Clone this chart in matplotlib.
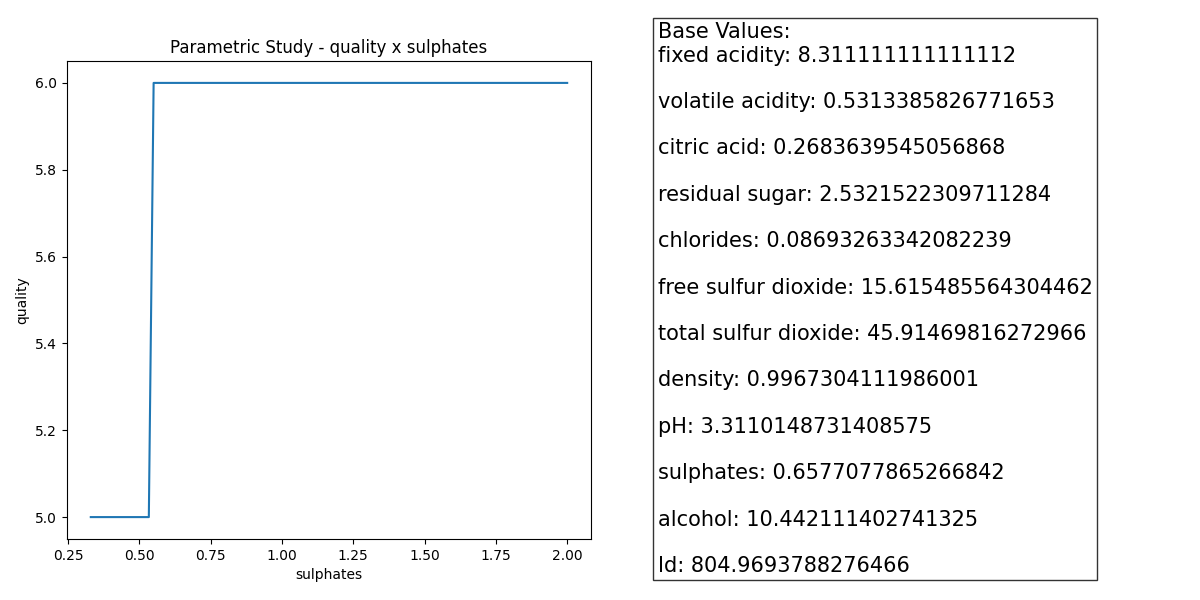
import matplotlib
matplotlib.use('Agg')
import matplotlib.pyplot as plt

# parametric sweep of sulphates (quality is predicted class)
sulphates = [0.33, 0.5335, 0.5503, 2.0]
quality = [5, 5, 6, 6]

base_names = ['fixed acidity', 'volatile acidity', 'citric acid', 'residual sugar',
              'chlorides', 'free sulfur dioxide', 'total sulfur dioxide', 'density',
              'pH', 'sulphates', 'alcohol', 'Id']
base_values = ['8.311111111111112', '0.5313385826771653', '0.2683639545056868',
               '2.5321522309711284', '0.08693263342082239', '15.615485564304462',
               '45.91469816272966', '0.9967304111986001', '3.3110148731408575',
               '0.6577077865266842', '10.442111402741325', '804.9693788276466']

fig = plt.figure(figsize=(12, 6), dpi=100)
ax = fig.add_axes([0.0558, 0.102, 0.4367, 0.796])
ax.plot(sulphates, quality)
ax.set_title('Parametric Study - quality x sulphates')
ax.set_xlabel('sulphates')
ax.set_ylabel('quality')

txt = 'Base Values:\n' + '\n\n'.join(f'{n}: {v}' for n, v in zip(base_names, base_values))
fig.text(0.548, 0.9625, txt, fontsize=15, va='top', ha='left',
         bbox=dict(boxstyle='square,pad=0.2', facecolor='white', edgecolor='#333333'))

fig.savefig('out.png', dpi=100)
